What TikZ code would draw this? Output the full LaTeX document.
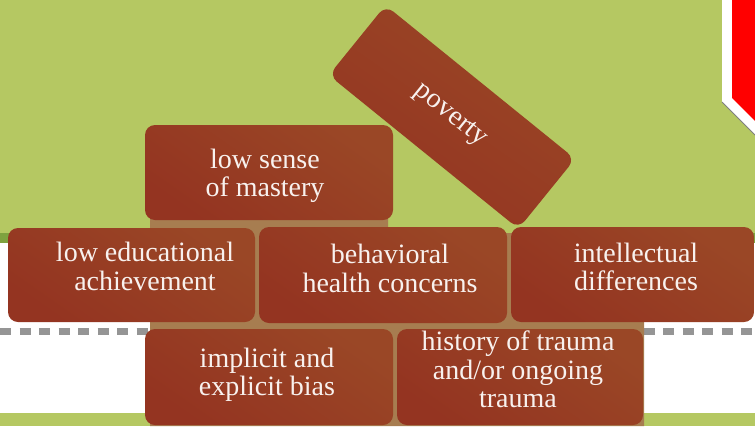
\documentclass[tikz,border=0pt]{standalone}
\usepackage{fontspec}
\setmainfont{Liberation Serif}
\usetikzlibrary{calc}
\definecolor{bggreen}{HTML}{B5C862}
\definecolor{darkgreen}{HTML}{7EA23F}
\definecolor{mortar}{HTML}{A77D50}
\definecolor{brickA}{HTML}{9A4726}
\definecolor{brickB}{HTML}{943421}
\definecolor{dashgrey}{HTML}{959595}
\definecolor{txt}{HTML}{F8F1EE}
\definecolor{flagred}{HTML}{FF0000}
\begin{document}
\begin{tikzpicture}[x=1pt,y=-1pt,
  brick/.style={rounded corners=10pt, top color=brickA, bottom color=brickB, shading angle=-35, draw=none, inner sep=0pt},
  btext/.style={text=txt, font=\rmfamily\fontsize{28}{28.5}\selectfont, align=center, inner sep=0pt}]
\useasboundingbox (0,0) rectangle (755,426);
% background bands
\fill[bggreen] (0,0) rectangle (755,233);
\fill[darkgreen] (0,233) rectangle (755,243);
\fill[white] (0,243) rectangle (755,413);
\fill[bggreen] (0,413) rectangle (755,426);
% dashed line
\draw[dashgrey, line width=7pt, dash pattern=on 11pt off 8.5pt] (0,331.5) -- (755,331.5);
% red flag top right
\fill[white] (722,0) -- (722,102) -- (755,135) -- (755,0) -- cycle;
\draw[gray, line width=0.8pt] (722,102) -- (755,135);
\fill[flagred] (732,0) -- (732,98) -- (755,121) -- (755,0) -- cycle;
% mortar
\fill[mortar] (150,140) -- (388,140) -- (388,233) -- (644,233) -- (644,426) -- (150,426) -- cycle;
% bricks
\node[brick, minimum width=244pt, minimum height=90pt, rotate=-39] (pov) at (452,117) {};
\node[brick, minimum width=248pt, minimum height=95pt] (mas) at (269,172.5) {};
\node[brick, minimum width=247pt, minimum height=94pt] (edu) at (131.5,275) {};
\node[brick, minimum width=248pt, minimum height=96pt] (beh) at (383,275) {};
\node[brick, minimum width=243pt, minimum height=95pt] (int) at (632.5,274.5) {};
\node[brick, minimum width=248pt, minimum height=96pt] (imp) at (269,377) {};
\node[brick, minimum width=246pt, minimum height=96pt] (his) at (520,377) {};
% texts
\node[btext, rotate=-39] (tpov) at (450,116) {poverty};
\node[btext] (tmas) at (265,176) {low sense\\of mastery};
\node[btext] (tedu) at (145,266.5) {low educational\\achievement};
\node[btext] (tbeh) at (390,268.5) {behavioral\\health concerns};
\node[btext] (tint) at (636,267) {intellectual\\differences};
\node[btext] (timp) at (267,375) {implicit and\\explicit bias};
\node[btext] (this) at (518,369.5) {history of trauma\\and/or ongoing\\trauma};
\end{tikzpicture}
\end{document}
